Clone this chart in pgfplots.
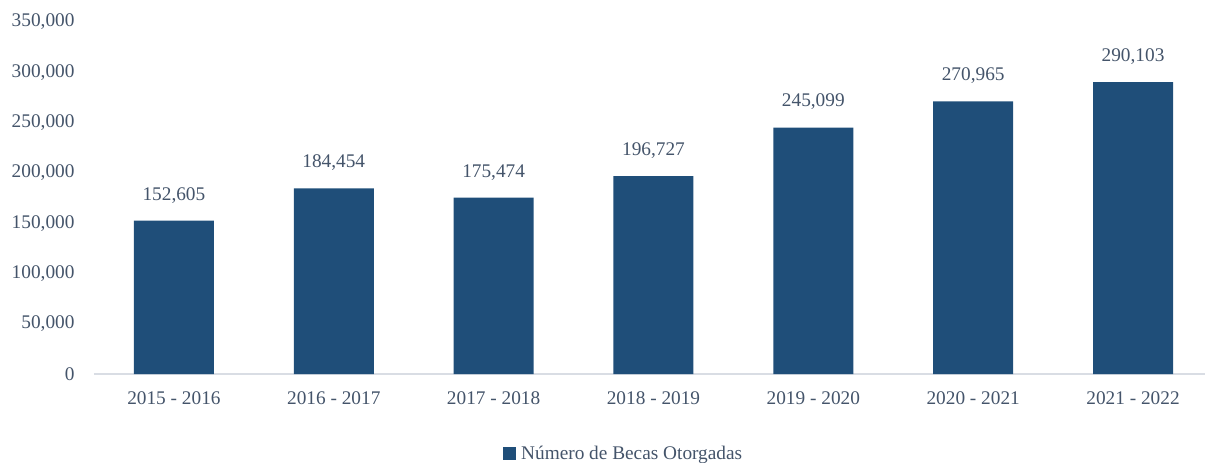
\documentclass[border=0pt]{standalone}
\usepackage{fontspec}
\setmainfont{Liberation Serif}
\usepackage{pgfplots}
\pgfplotsset{compat=1.18}
\definecolor{barblue}{HTML}{1F4E79}
\definecolor{txtgray}{HTML}{44546A}
\definecolor{axgray}{HTML}{D9DDE4}
\begin{document}
\begin{tikzpicture}
\begin{axis}[
  at={(0,0)}, anchor=south west,
  scale only axis,
  width=1119pt, height=352pt,
  xmin=-0.5, xmax=6.5,
  ymin=0, ymax=350000,
  ybar, bar width=80pt,
  axis x line*=bottom,
  axis y line*=left,
  x axis line style={draw=axgray, line width=1.5pt, -},
  y axis line style={draw=none},
  xtick=data,
  xticklabels={2015 - 2016, 2016 - 2017, 2017 - 2018, 2018 - 2019, 2019 - 2020, 2020 - 2021, 2021 - 2022},
  major tick length=0pt,
  ytick={0,50000,...,350000},
  scaled y ticks=false,
  /pgf/number format/.cd, fixed, precision=0, 1000 sep={,}, assume math mode=true,
  /pgfplots/.cd,
  tick label style={font=\fontsize{19.3pt}{23pt}\selectfont, text=txtgray},
  xticklabel style={yshift=-14pt},
  yticklabel style={xshift=-16pt},
  nodes near coords,
  every node near coord/.append style={font=\fontsize{19.3pt}{23pt}\selectfont, text=txtgray, yshift=14pt},
  legend style={at={(0.3655,-0.227)}, anchor=west, draw=none, fill=none, inner sep=0pt,
    font=\fontsize{19.3pt}{23pt}\selectfont, text=txtgray,
    /tikz/every odd column/.append style={column sep=3pt}},
  legend image code/.code={\fill[barblue] (0pt,-6.5pt) rectangle (13pt,6.5pt);},
  clip=false,
]
\addplot[fill=barblue, draw=none] coordinates {
  (0,152605) (1,184454) (2,175474) (3,196727) (4,245099) (5,270965) (6,290103)
};
\addlegendentry{Número de Becas Otorgadas}
\end{axis}
\pgfresetboundingbox
\path[use as bounding box] (-94pt,-89pt) rectangle (1111pt,374pt);
\end{tikzpicture}
\end{document}
